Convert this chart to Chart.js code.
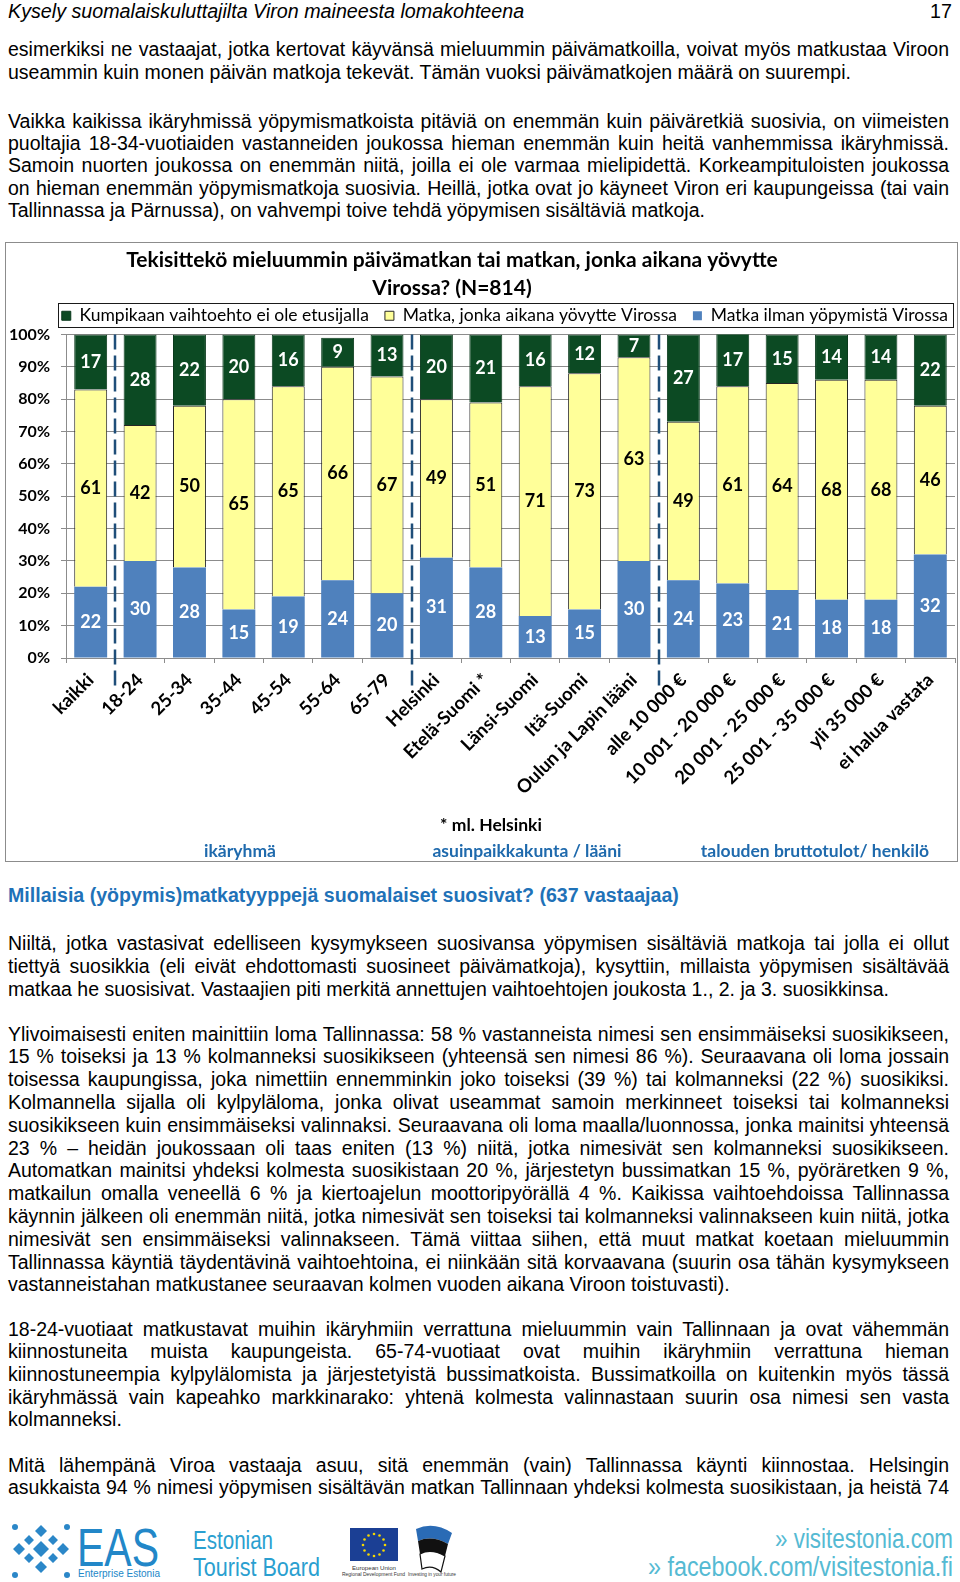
<!DOCTYPE html>
<html lang="fi">
<head>
<meta charset="utf-8">
<title>Tekisittekö mieluummin päivämatkan tai matkan, jonka aikana yövytte Virossa?</title>
<script src="https://cdn.jsdelivr.net/npm/chart.js@4.4.1/dist/chart.umd.min.js"></script>
<style>
  html, body { margin: 0; padding: 0; background: #fff; }
  body { position: relative; width: 960px; height: 1582px; overflow: hidden; color: #000;
         font-family: "Liberation Sans", Arial, Helvetica, sans-serif; }
  .page-head { position: absolute; left: 8px; top: 0; width: 944px; height: 22px; line-height: 22px;
               font-size: 19.7px; font-style: italic; }
  .page-head span { position: absolute; right: 0; top: 0; font-style: normal; }
  .para { position: absolute; left: 8px; width: 941px; font-size: 19.5px; }
  .para div { text-align: justify; text-align-last: justify; }
  .para div.last { text-align: left; text-align-last: left; }
  .subhead { position: absolute; left: 8px; top: 884px; line-height: 22px; font-size: 19.6px;
             font-weight: bold; color: #1f72b8; white-space: nowrap; }
  #frame { position: absolute; left: 5px; top: 242px; width: 951px; height: 618px; border: 1px solid #8c8c8c; }
  #frame canvas { display: block; }
  .note { position: absolute; font-family: Lato, sans-serif; font-weight: bold; font-size: 17.5px;
          line-height: 20px; white-space: nowrap; transform: translateX(-50%); }
  .note.group { color: #1f6aad; }
  #footer { position: absolute; left: 0; top: 1505px; }
</style>
</head>
<body>

<div class="page-head">Kysely suomalaiskuluttajilta Viron maineesta lomakohteena<span>17</span></div>

<div class="para" style="top:38.4px; line-height:22.2px;">
  <div>esimerkiksi ne vastaajat, jotka kertovat käyvänsä mieluummin päivämatkoilla, voivat myös matkustaa Viroon</div>
  <div class="last">useammin kuin monen päivän matkoja tekevät. Tämän vuoksi päivämatkojen määrä on suurempi.</div>
</div>

<div class="para" style="top:110px; line-height:22.2px;">
  <div>Vaikka kaikissa ikäryhmissä yöpymismatkoista pitäviä on enemmän kuin päiväretkiä suosivia, on viimeisten</div>
  <div>puoltajia 18-34-vuotiaiden vastanneiden joukossa hieman enemmän kuin heitä vanhemmissa ikäryhmissä.</div>
  <div>Samoin nuorten joukossa on enemmän niitä, joilla ei ole varmaa mielipidettä. Korkeampituloisten joukossa</div>
  <div>on hieman enemmän yöpymismatkoja suosivia. Heillä, jotka ovat jo käyneet Viron eri kaupungeissa (tai vain</div>
  <div class="last">Tallinnassa ja Pärnussa), on vahvempi toive tehdä yöpymisen sisältäviä matkoja.</div>
</div>

<div id="frame"><canvas id="chart" width="951" height="618"></canvas></div>

<div class="note" style="left:491px; top:815px;">* ml. Helsinki</div>
<div class="note group" style="left:240px; top:841px;">ikäryhmä</div>
<div class="note group" style="left:527px; top:841px;">asuinpaikkakunta / lääni</div>
<div class="note group" style="left:815px; top:841px;">talouden bruttotulot/ henkilö</div>

<div class="subhead">Millaisia (yöpymis)matkatyyppejä suomalaiset suosivat? (637 vastaajaa)</div>

<div class="para" style="top:931.5px; line-height:23px;">
  <div>Niiltä, jotka vastasivat edelliseen kysymykseen suosivansa yöpymisen sisältäviä matkoja tai jolla ei ollut</div>
  <div>tiettyä suosikkia (eli eivät ehdottomasti suosineet päivämatkoja), kysyttiin, millaista yöpymisen sisältävää</div>
  <div class="last">matkaa he suosisivat. Vastaajien piti merkitä annettujen vaihtoehtojen joukosta 1., 2. ja 3. suosikkinsa.</div>
</div>

<div class="para" style="top:1022.6px; line-height:22.8px;">
  <div>Ylivoimaisesti eniten mainittiin loma Tallinnassa: 58 % vastanneista nimesi sen ensimmäiseksi suosikikseen,</div>
  <div>15 % toiseksi ja 13 % kolmanneksi suosikikseen (yhteensä sen nimesi 86 %). Seuraavana oli loma jossain</div>
  <div>toisessa kaupungissa, joka nimettiin ennemminkin joko toiseksi (39 %) tai kolmanneksi (22 %) suosikiksi.</div>
  <div>Kolmannella sijalla oli kylpyläloma, jonka olivat useammat samoin merkinneet toiseksi tai kolmanneksi</div>
  <div>suosikikseen kuin ensimmäiseksi valinnaksi. Seuraavana oli loma maalla/luonnossa, jonka mainitsi yhteensä</div>
  <div>23 % – heidän joukossaan oli taas eniten (13 %) niitä, jotka nimesivät sen kolmanneksi suosikikseen.</div>
  <div>Automatkan mainitsi yhdeksi kolmesta suosikistaan 20 %, järjestetyn bussimatkan 15 %, pyöräretken 9 %,</div>
  <div>matkailun omalla veneellä 6 % ja kiertoajelun moottoripyörällä 4 %. Kaikissa vaihtoehdoissa Tallinnassa</div>
  <div>käynnin jälkeen oli enemmän niitä, jotka nimesivät sen toiseksi tai kolmanneksi valinnakseen kuin niitä, jotka</div>
  <div>nimesivät sen ensimmäiseksi valinnakseen. Tämä viittaa siihen, että muut matkat koetaan mieluummin</div>
  <div>Tallinnassa käyntiä täydentävinä vaihtoehtoina, ei niinkään sitä korvaavana (suurin osa tähän kysymykseen</div>
  <div class="last">vastanneistahan matkustanee seuraavan kolmen vuoden aikana Viroon toistuvasti).</div>
</div>

<div class="para" style="top:1317.6px; line-height:22.7px;">
  <div>18-24-vuotiaat matkustavat muihin ikäryhmiin verrattuna mieluummin vain Tallinnaan ja ovat vähemmän</div>
  <div>kiinnostuneita muista kaupungeista. 65-74-vuotiaat ovat muihin ikäryhmiin verrattuna hieman</div>
  <div>kiinnostuneempia kylpylälomista ja järjestetyistä bussimatkoista. Bussimatkoilla on kuitenkin myös tässä</div>
  <div>ikäryhmässä vain kapeahko markkinarako: yhtenä kolmesta valinnastaan suurin osa nimesi sen vasta</div>
  <div class="last">kolmanneksi.</div>
</div>

<div class="para" style="top:1454px; line-height:22px;">
  <div>Mitä lähempänä Viroa vastaaja asuu, sitä enemmän (vain) Tallinnassa käynti kiinnostaa. Helsingin</div>
  <div>asukkaista 94 % nimesi yöpymisen sisältävän matkan Tallinnaan yhdeksi kolmesta suosikistaan, ja heistä 74</div>
</div>

<svg id="footer" width="960" height="77" viewBox="0 0 960 77">
  <g fill="#2b87c8" transform="translate(1,8)">
    <path d="M40 28 l8 8 -8 8 -8 -8z"/>
    <path d="M40 12 l6 6 -6 6 -6 -6z"/>
    <path d="M40 48 l6 6 -6 6 -6 -6z"/>
    <path d="M24 36 l-6 6 -6 -6 6 -6z M68 36 l-6 6 -6 -6 6 -6z"/>
    <path d="M28 22 l5 5 -5 5 -5 -5z M52 22 l5 5 -5 5 -5 -5z M28 40 l5 5 -5 5 -5 -5z M52 40 l5 5 -5 5 -5 -5z"/>
    <circle cx="14" cy="62" r="3"/><circle cx="66" cy="62" r="3"/>
    <circle cx="14" cy="14" r="3"/><circle cx="66" cy="14" r="3"/>
  </g>
  <text x="77" y="61" font-size="53" fill="#2287c8" textLength="82" lengthAdjust="spacingAndGlyphs">EAS</text>
  <text x="78" y="72" font-size="11.5" fill="#2287c8" textLength="82" lengthAdjust="spacingAndGlyphs">Enterprise Estonia</text>
  <text x="193" y="44" font-size="26" fill="#2a9fd0" textLength="80" lengthAdjust="spacingAndGlyphs">Estonian</text>
  <text x="193" y="71" font-size="26" fill="#2a9fd0" textLength="127" lengthAdjust="spacingAndGlyphs">Tourist Board</text>
  <rect x="350" y="23" width="48" height="33" fill="#1b3f94"/>
  <g fill="#f5d800">
    <circle cx="374" cy="29" r="1.3"/><circle cx="379.5" cy="30.5" r="1.3"/><circle cx="383.5" cy="34.5" r="1.3"/>
    <circle cx="385" cy="40" r="1.3"/><circle cx="383.5" cy="45.5" r="1.3"/><circle cx="379.5" cy="49.5" r="1.3"/>
    <circle cx="374" cy="51" r="1.3"/><circle cx="368.5" cy="49.5" r="1.3"/><circle cx="364.5" cy="45.5" r="1.3"/>
    <circle cx="363" cy="40" r="1.3"/><circle cx="364.5" cy="34.5" r="1.3"/><circle cx="368.5" cy="30.5" r="1.3"/>
  </g>
  <text x="352" y="65" font-size="6" fill="#333" textLength="44" lengthAdjust="spacingAndGlyphs">European Union</text>
  <text x="342" y="71" font-size="6" fill="#333" textLength="63" lengthAdjust="spacingAndGlyphs">Regional Development Fund</text>
  <text x="408" y="71" font-size="6" fill="#333" textLength="48" lengthAdjust="spacingAndGlyphs">Investing in your future</text>
  <g transform="translate(0,8)">
    <path d="M416 16 Q434 8 452 20 L448 31 Q432 22 418 28 Z" fill="#2a6bb5"/>
    <path d="M418 28 Q432 22 448 31 L445 43 Q431 35 420 41 Z" fill="#111"/>
    <path d="M420 41 Q431 35 445 43 L441 59 Q432 51 422 56 Z" fill="#fff" stroke="#111" stroke-width="1.2"/>
  </g>
  <text x="953" y="43" font-size="27" fill="#55bad3" text-anchor="end" textLength="178" lengthAdjust="spacingAndGlyphs">» visitestonia.com</text>
  <text x="953" y="71" font-size="27" fill="#55bad3" text-anchor="end" textLength="305" lengthAdjust="spacingAndGlyphs">» facebook.com/visitestonia.fi</text>
</svg>

<script>
  // chart values (% of respondents)
  const categories = [
    'kaikki', '18-24', '25-34', '35-44', '45-54', '55-64', '65-79',
    'Helsinki', 'Etelä-Suomi *', 'Länsi-Suomi', 'Itä-Suomi', 'Oulun ja Lapin lääni',
    'alle 10 000 €', '10 001 - 20 000 €', '20 001 - 25 000 €', '25 001 - 35 000 €', 'yli 35 000 €', 'ei halua vastata'
  ];
  const ilmanYopymista = [22, 30, 28, 15, 19, 24, 20, 31, 28, 13, 15, 30, 24, 23, 21, 18, 18, 32];
  const yopymisella    = [61, 42, 50, 65, 65, 66, 67, 49, 51, 71, 73, 63, 49, 61, 64, 68, 68, 46];
  const kumpikaan      = [17, 28, 22, 20, 16,  9, 13, 20, 21, 16, 12,  7, 27, 17, 15, 14, 14, 22];
  const seriesNames = [
    'Matka ilman yöpymistä Virossa',
    'Matka, jonka aikana yövytte Virossa',
    'Kumpikaan vaihtoehto ei ole etusijalla'
  ];
  const yTicks = [0, 10, 20, 30, 40, 50, 60, 70, 80, 90, 100];
  const groupStarts = [1, 7, 12]; // first category of each new group (dashed line before it)
  const titleLines = ['Tekisittekö mieluummin päivämatkan tai matkan, jonka aikana yövytte', 'Virossa? (N=814)'];

  // keep every typeset line on one row: shrink a line a little if it would wrap
  document.querySelectorAll('.para div').forEach(el => {
    const lh = parseFloat(getComputedStyle(el).lineHeight);
    let size = parseFloat(getComputedStyle(el).fontSize);
    while (el.getBoundingClientRect().height > lh * 1.5 && size > 14) {
      size -= 0.25;
      el.style.fontSize = size + 'px';
    }
  });

  const FONT = 'Lato, "Open Sans", sans-serif';
  const GRID = '#8c8c8c';
  const LEGEND_PAD = 16;
  const LEGEND_SIZE = 17.5;

  const titlePlugin = {
    id: 'twoLineTitle',
    afterDraw(chart) {
      const ctx = chart.ctx;
      ctx.save();
      ctx.font = 'bold 21px ' + FONT;
      ctx.fillStyle = '#000';
      ctx.textAlign = 'center';
      ctx.textBaseline = 'middle';
      titleLines.forEach((t, i) => ctx.fillText(t, 446, 17 + i * 28));
      ctx.restore();
    }
  };

  const legendFrame = {
    id: 'legendFrame',
    afterLayout(chart) {
      // legend sits flush with the right end of the plot like in the original
      chart.legend.left += 9;
      chart.legend.right += 9;
    },
    afterDraw(chart) {
      const lg = chart.legend;
      const ctx = chart.ctx;
      const mid = Math.round(lg.top + LEGEND_PAD + LEGEND_SIZE / 2);
      ctx.save();
      ctx.strokeStyle = '#1a1a1a';
      ctx.lineWidth = 1;
      ctx.strokeRect(52.5, mid - 12.5, chart.width - 56, 24);
      ctx.restore();
    }
  };

  const segmentLabels = {
    id: 'segmentLabels',
    afterDatasetsDraw(chart) {
      const ctx = chart.ctx;
      const top = chart.chartArea.top;
      ctx.save();
      ctx.font = 'bold 18px ' + FONT;
      ctx.textAlign = 'center';
      ctx.textBaseline = 'middle';
      chart.data.datasets.forEach((ds, i) => {
        const meta = chart.getDatasetMeta(i);
        ctx.fillStyle = ds.labelColor;
        meta.data.forEach((bar, j) => {
          const y = (Math.max(bar.y, top) + bar.base) / 2;
          ctx.fillText(String(ds.data[j]), bar.x, y);
        });
      });
      ctx.restore();
    }
  };

  const groupSeparators = {
    id: 'groupSeparators',
    afterDatasetsDraw(chart) {
      const x = chart.scales.x;
      const area = chart.chartArea;
      const ctx = chart.ctx;
      ctx.save();
      ctx.strokeStyle = '#1f4e79';
      ctx.lineWidth = 2.5;
      ctx.setLineDash([15, 6]);
      groupStarts.forEach(i => {
        const px = Math.round((x.getPixelForValue(i - 1) + x.getPixelForValue(i)) / 2);
        ctx.beginPath();
        ctx.moveTo(px, area.top);
        ctx.lineTo(px, area.bottom + 28);
        ctx.stroke();
      });
      ctx.restore();
    }
  };

  const barCommon = { barPercentage: 0.667, categoryPercentage: 1.0 };

  new Chart(document.getElementById('chart').getContext('2d'), {
    type: 'bar',
    data: {
      labels: categories,
      datasets: [
        Object.assign({ label: seriesNames[0], data: ilmanYopymista, backgroundColor: '#4f81bd',
          borderWidth: 0, labelColor: '#fff' }, barCommon),
        Object.assign({ label: seriesNames[1], data: yopymisella, backgroundColor: '#ffff99',
          borderColor: '#262626', borderWidth: 1, labelColor: '#000' }, barCommon),
        Object.assign({ label: seriesNames[2], data: kumpikaan, backgroundColor: '#0c4a23',
          borderColor: '#0a3a1c', borderWidth: 1, labelColor: '#fff' }, barCommon)
      ]
    },
    options: {
      responsive: false,
      animation: false,
      layout: { padding: { top: 48, left: 0, right: 2, bottom: 0 } },
      plugins: {
        title: { display: false },
        tooltip: { enabled: false },
        legend: {
          position: 'top',
          align: 'end',
          reverse: true,
          labels: { boxWidth: 9, boxHeight: 9, padding: LEGEND_PAD, color: '#000',
                    font: { family: FONT, size: LEGEND_SIZE } }
        }
      },
      scales: {
        x: {
          stacked: true,
          grid: { display: true, drawOnChartArea: false, color: GRID, tickLength: 5, offset: true },
          border: { color: GRID },
          ticks: { autoSkip: false, maxRotation: 45, minRotation: 45, padding: 6, color: '#000',
                   font: { family: FONT, size: 18.5, weight: 'bold' } },
          afterFit(scale) { scale.height = 203; }
        },
        y: {
          stacked: true,
          min: 0,
          max: 100,
          grid: { color: GRID, tickLength: 5 },
          border: { color: GRID },
          ticks: { padding: 11, color: '#000', font: { family: FONT, size: 16, weight: 'bold' },
                   callback: v => v + '%' },
          afterBuildTicks(scale) { scale.ticks = yTicks.map(v => ({ value: v })); },
          afterFit(scale) { scale.width = 60; }
        }
      }
    },
    plugins: [titlePlugin, legendFrame, groupSeparators, segmentLabels]
  });
</script>
</body>
</html>
